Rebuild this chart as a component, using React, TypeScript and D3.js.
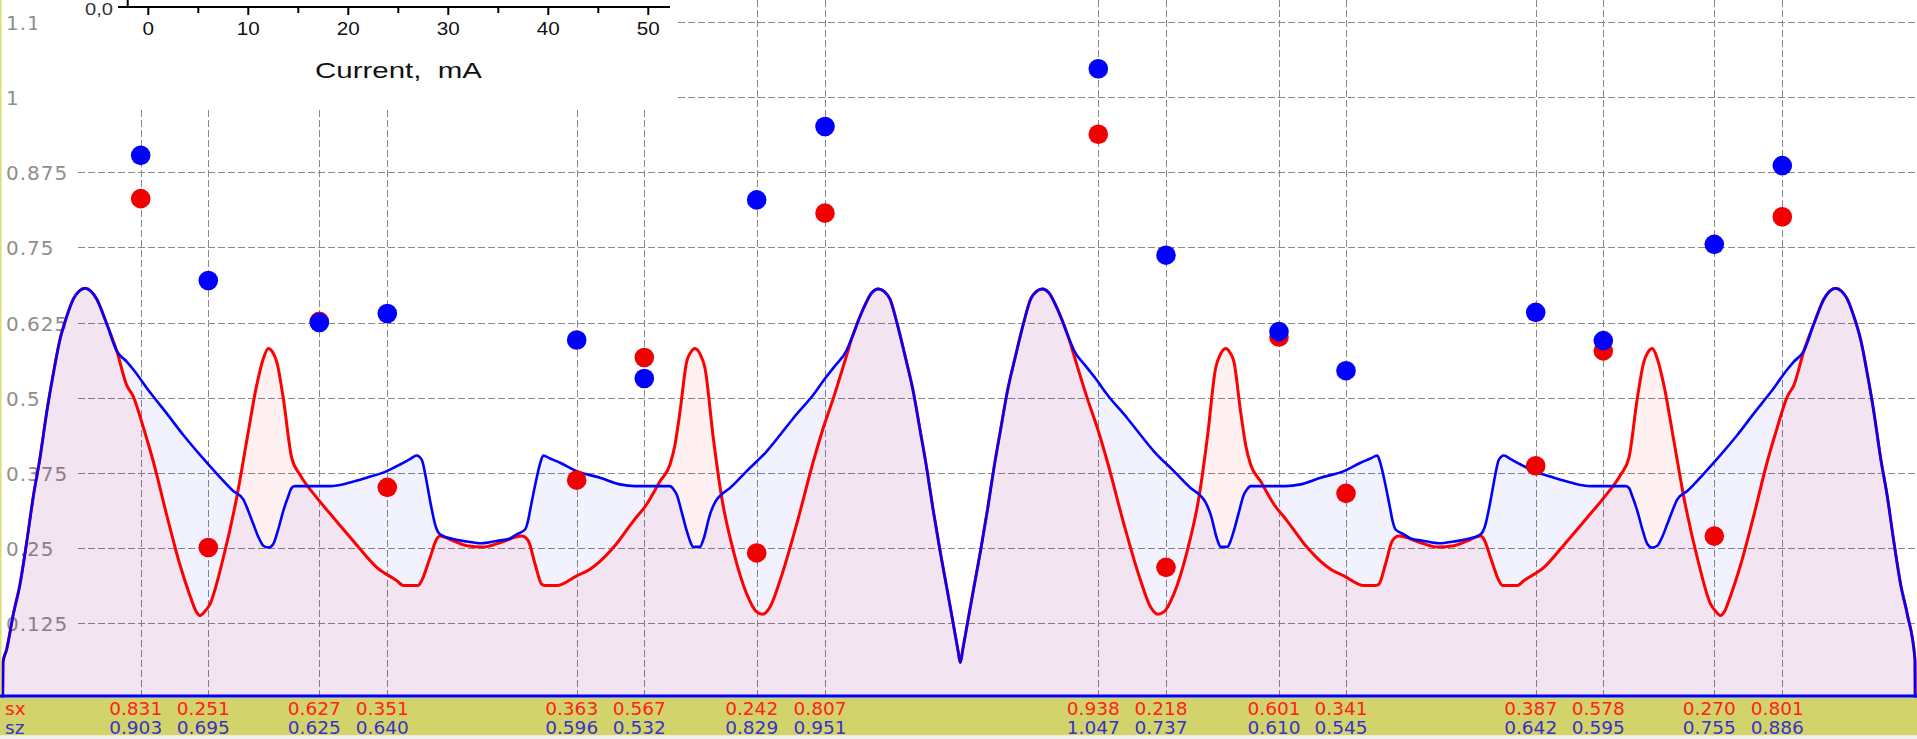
import React from 'react';
import * as d3 from 'd3';

type P = [number, number];

// ---------- profile data (position, value) ----------
const leftFlank: P[] = [
  [2.7, 0], [3, 0.06], [6.7, 0.082], [13.3, 0.14], [20, 0.19], [26.7, 0.26], [33.3, 0.336], [40, 0.4],
  [46.7, 0.476], [53.3, 0.54], [60, 0.597], [66.7, 0.635], [73.3, 0.664], [79, 0.677], [85, 0.682],
  [91, 0.677], [96.7, 0.664], [106.7, 0.623], [116.7, 0.578],
];

const redInnerA: P[] = [
  [126.7, 0.521], [133.3, 0.502], [143.3, 0.451], [153.3, 0.394], [166.7, 0.305], [180, 0.222], [190, 0.171],
  [196, 0.145], [200, 0.138], [205, 0.145], [210, 0.157], [223.3, 0.234], [236.7, 0.334], [246.7, 0.428],
  [256.7, 0.521], [263.3, 0.565], [268.3, 0.582], [273, 0.575], [276.7, 0.56], [283.3, 0.499], [291.7, 0.4],
  [300, 0.372], [316.7, 0.334], [333.3, 0.301], [353.3, 0.262], [376.7, 0.218], [396.7, 0.196], [403.3, 0.188],
  [418.3, 0.188], [421.7, 0.196], [430, 0.234], [436.7, 0.265], [440, 0.27], [453.3, 0.262], [466.7, 0.254],
  [483.3, 0.252], [500, 0.259], [521.7, 0.27], [528.3, 0.262], [535, 0.224], [541.7, 0.19], [545, 0.188],
  [556.7, 0.188], [576.7, 0.204], [590, 0.215], [600, 0.228], [613.3, 0.251], [633.3, 0.295], [646.7, 0.323],
  [660, 0.361], [670, 0.389], [675, 0.422], [680, 0.477], [686.7, 0.56], [690.5, 0.575], [695, 0.582],
  [700, 0.573], [705, 0.549], [713.3, 0.433], [721.7, 0.334], [733.3, 0.246], [746.7, 0.174], [756.7, 0.144],
  [762.7, 0.14], [770, 0.152], [780, 0.196], [796.7, 0.29], [813.3, 0.394], [823.3, 0.45], [833.3, 0.499],
  [846.7, 0.571],
];

const blueInnerA: P[] = [
  [126.7, 0.56], [133.3, 0.547], [150, 0.509], [166.7, 0.474], [183.3, 0.438], [200, 0.405], [216.7, 0.374],
  [233.3, 0.345], [243.3, 0.331], [248, 0.313], [253.3, 0.29], [258, 0.27], [263.3, 0.254], [268.3, 0.251],
  [273.3, 0.257], [278, 0.28], [283.3, 0.312], [288, 0.335], [291.7, 0.35], [295, 0.353], [330, 0.353],
  [350, 0.359], [366.7, 0.367], [386.7, 0.378], [400, 0.389], [410, 0.398], [416.7, 0.404], [421.7, 0.397],
  [425, 0.375], [428.3, 0.345], [431.7, 0.315], [435, 0.29], [440, 0.273], [453.3, 0.265], [466.7, 0.261],
  [481.5, 0.258], [496.7, 0.262], [510, 0.266], [516.7, 0.273], [525, 0.281], [528, 0.295], [530, 0.312],
  [533.3, 0.34], [536.7, 0.367], [540, 0.39], [543.3, 0.404], [550, 0.399], [560, 0.392], [576.7, 0.378],
  [600, 0.367], [620, 0.356], [635, 0.353], [670, 0.353], [673.5, 0.348], [676.7, 0.339], [681.7, 0.31],
  [686.7, 0.279], [690, 0.262], [693.3, 0.252], [700, 0.252], [703.5, 0.265], [710, 0.306], [715, 0.326],
  [720, 0.337], [730, 0.35], [746.7, 0.378], [766.7, 0.411], [780, 0.438], [793.3, 0.466], [813.3, 0.505],
  [825, 0.532], [835, 0.553], [846.7, 0.579],
];

const centerSection: P[] = [
  [852, 0.6], [863.3, 0.648], [872, 0.675], [878.3, 0.681], [884, 0.677], [890, 0.664], [896.7, 0.626],
  [905, 0.57], [913.3, 0.51], [920, 0.447], [926.7, 0.383], [933, 0.315], [940, 0.246], [946.7, 0.185],
  [953.3, 0.124], [958, 0.08], [960.3, 0.06], [962.6, 0.08], [967.3, 0.124], [973.9, 0.185], [980.6, 0.246],
  [987.6, 0.315], [993.9, 0.383], [1000.6, 0.447], [1007.3, 0.51], [1015.6, 0.57], [1023.9, 0.626],
  [1030.6, 0.664], [1036.6, 0.677], [1042.3, 0.681], [1048.6, 0.675], [1057.3, 0.648], [1068.6, 0.6],
];

const redInnerB: P[] = [
  [1073.9, 0.571], [1087.3, 0.499], [1097.3, 0.45], [1107.3, 0.394], [1123.9, 0.29], [1140.6, 0.196],
  [1150.6, 0.152], [1157.9, 0.14], [1163.9, 0.144], [1173.9, 0.174], [1187.3, 0.246], [1198.9, 0.334],
  [1207.3, 0.433], [1215.6, 0.549], [1220.6, 0.573], [1225.6, 0.582], [1230.1, 0.575], [1233.9, 0.56],
  [1240.6, 0.477], [1245.6, 0.422], [1250.6, 0.389], [1260.6, 0.361], [1273.9, 0.323], [1287.3, 0.295],
  [1307.3, 0.251], [1320.6, 0.228], [1330.6, 0.215], [1343.9, 0.204], [1363.9, 0.188], [1375.6, 0.188],
  [1378.9, 0.19], [1385.6, 0.224], [1392.3, 0.262], [1398.9, 0.27], [1420.6, 0.259], [1437.3, 0.252],
  [1453.9, 0.254], [1467.3, 0.262], [1480.6, 0.27], [1483.9, 0.265], [1490.6, 0.234], [1498.9, 0.196],
  [1502.3, 0.188], [1517.3, 0.188], [1523.9, 0.196], [1543.9, 0.218], [1567.3, 0.262], [1587.3, 0.301],
  [1603.9, 0.334], [1620.6, 0.372], [1628.9, 0.4], [1637.3, 0.499], [1643.9, 0.56], [1647.6, 0.575],
  [1652.3, 0.582], [1657.3, 0.565], [1663.9, 0.521], [1673.9, 0.428], [1683.9, 0.334], [1697.3, 0.234],
  [1710.6, 0.157], [1715.6, 0.145], [1720.6, 0.138], [1724.6, 0.145], [1730.6, 0.171], [1740.6, 0.222],
  [1753.9, 0.305], [1767.3, 0.394], [1777.3, 0.451], [1787.3, 0.502], [1793.9, 0.521],
];

const blueInnerB: P[] = [
  [1073.9, 0.579], [1085.6, 0.553], [1095.6, 0.532], [1107.3, 0.505], [1127.3, 0.466], [1140.6, 0.438],
  [1153.9, 0.411], [1173.9, 0.378], [1190.6, 0.35], [1200.6, 0.337], [1205.6, 0.326], [1210.6, 0.306],
  [1217.1, 0.265], [1220.6, 0.252], [1227.3, 0.252], [1230.6, 0.262], [1233.9, 0.279], [1238.9, 0.31],
  [1243.9, 0.339], [1247.1, 0.348], [1250.6, 0.353], [1285.6, 0.353], [1300.6, 0.356], [1320.6, 0.367],
  [1343.9, 0.378], [1360.6, 0.392], [1370.6, 0.399], [1377.3, 0.404], [1380.6, 0.39], [1383.9, 0.367],
  [1387.3, 0.34], [1390.6, 0.312], [1392.6, 0.295], [1395.6, 0.281], [1403.9, 0.273], [1410.6, 0.266],
  [1423.9, 0.262], [1439.1, 0.258], [1453.9, 0.261], [1467.3, 0.265], [1480.6, 0.273], [1485.6, 0.29],
  [1488.9, 0.315], [1492.3, 0.345], [1495.6, 0.375], [1498.9, 0.397], [1503.9, 0.404], [1510.6, 0.398],
  [1520.6, 0.389], [1533.9, 0.378], [1553.9, 0.367], [1570.6, 0.359], [1590.6, 0.353], [1625.6, 0.353],
  [1628.9, 0.35], [1632.6, 0.335], [1637.3, 0.312], [1642.6, 0.28], [1647.3, 0.257], [1652.3, 0.251],
  [1657.3, 0.254], [1662.6, 0.27], [1667.3, 0.29], [1672.6, 0.313], [1677.3, 0.331], [1687.3, 0.345],
  [1703.9, 0.374], [1720.6, 0.405], [1737.3, 0.438], [1753.9, 0.474], [1770.6, 0.509], [1787.3, 0.547],
  [1793.9, 0.56],
];

const rightFlank: P[] = [
  [1803.9, 0.578], [1813.9, 0.623], [1823.9, 0.664], [1829.6, 0.677], [1835.6, 0.682], [1841.6, 0.677],
  [1847.3, 0.664], [1853.9, 0.635], [1860.6, 0.597], [1867.3, 0.54], [1873.9, 0.476], [1880.6, 0.4],
  [1887.3, 0.336], [1893.9, 0.26], [1900.6, 0.19], [1907.3, 0.14], [1915, 0.064], [1915.2, 0],
];

// ---------- element data ----------
const elementPositions = [140.7, 208.3, 319.3, 387.3, 576.7, 644.3, 756.7, 825, 1098.3, 1166, 1279, 1346, 1535.7, 1603.3, 1714.3, 1782.3];
const sxValues = [0.831, 0.251, 0.627, 0.351, 0.363, 0.567, 0.242, 0.807, 0.938, 0.218, 0.601, 0.341, 0.387, 0.578, 0.27, 0.801];
const szValues = [0.903, 0.695, 0.625, 0.64, 0.596, 0.532, 0.829, 0.951, 1.047, 0.737, 0.61, 0.545, 0.642, 0.595, 0.755, 0.886];

const yTickValues = [0.125, 0.25, 0.375, 0.5, 0.625, 0.75, 0.875, 1, 1.125];
const yTickLabels = ['0.125', '0.25', '0.375', '0.5', '0.625', '0.75', '0.875', '1', '1.125'];

const insetMajorTicks = [0, 10, 20, 30, 40, 50];
const insetMinorTicks = [5, 15, 25, 35, 45];
const insetTitle = 'Current,  mA';

const redProfile: P[] = [...leftFlank, ...redInnerA, ...centerSection, ...redInnerB, ...rightFlank];
const blueProfile: P[] = [...leftFlank, ...blueInnerA, ...centerSection, ...blueInnerB, ...rightFlank];

const W = 1917;
const H = 739;

export default function App() {
  const x = d3.scaleLinear().domain([0, 1917]).range([0, 1917]);
  const y = d3.scaleLinear().domain([0, 1]).range([698.5, 97]);
  const ix = d3.scaleLinear().domain([0, 50]).range([148.3, 648.3]);

  const line = d3.line<P>().x(d => x(d[0])).y(d => y(d[1])).curve(d3.curveMonotoneX);
  const area = d3.area<P>().x(d => x(d[0])).y0(y(0)).y1(d => y(d[1])).curve(d3.curveMonotoneX);

  const font = '"DejaVu Sans", Verdana, sans-serif';
  const insetFont = '"Liberation Sans", Arial, sans-serif';

  return (
    <div style={{ position: 'absolute', left: 0, top: 0 }}>
      <svg width={W} height={H} style={{ display: 'block' }}>
        <rect x={0} y={0} width={W} height={H} fill="#ffffff" />

        {/* y labels */}
        {yTickValues.map((v, i) => (
          <text key={'yl' + i} x={6} y={y(v) + 1} dominantBaseline="central" fontFamily={font} fontSize={20}
            letterSpacing={1} fill="#8e8e8e">
            {yTickLabels[i]}
          </text>
        ))}

        {/* grid */}
        {yTickValues.map((v, i) => (
          <line key={'hg' + i} x1={78} x2={W} y1={Math.round(y(v)) + 0.5} y2={Math.round(y(v)) + 0.5}
            stroke="#888888" strokeWidth={1} strokeDasharray="7,3" />
        ))}
        {elementPositions.map((p, i) => (
          <line key={'vg' + i} x1={Math.round(x(p)) + 0.5} x2={Math.round(x(p)) + 0.5} y1={0} y2={697}
            stroke="#888888" strokeWidth={1} strokeDasharray="7,3" />
        ))}

        {/* areas */}
        <path d={area(blueProfile) || ''} fill="rgba(0,0,255,0.05)" />
        <path d={area(redProfile) || ''} fill="rgba(255,0,0,0.055)" />

        {/* lines */}
        <path d={line(redProfile) || ''} fill="none" stroke="#ff0000" strokeWidth={3} strokeLinejoin="round" />
        <path d={line(blueProfile) || ''} fill="none" stroke="#0000ff" strokeWidth={2.6} strokeLinejoin="round" />

        {/* markers */}
        {elementPositions.map((p, i) => (
          <circle key={'rs' + i} cx={x(p)} cy={y(sxValues[i])} r={9.8} fill="#f00000" />
        ))}
        {elementPositions.map((p, i) => (
          <circle key={'bs' + i} cx={x(p)} cy={y(szValues[i])} r={9.8} fill="#0000ff" />
        ))}

        {/* left border */}
        <rect x={0} y={0} width={1.6} height={697} fill="#dede78" />

        {/* bottom band */}
        <rect x={0} y={697.5} width={W} height={38} fill="#d3d36b" />
        <rect x={0} y={735.5} width={W} height={H - 735.5} fill="#f0f0f0" />
        <line x1={0} x2={W} y1={696} y2={696} stroke="#0000ff" strokeWidth={3} />

        <text x={5} y={708} dominantBaseline="central" fontFamily={font} fontSize={18.5} fill="#ff2020">sx</text>
        <text x={5} y={727} dominantBaseline="central" fontFamily={font} fontSize={18.5} fill="#3434c8">sz</text>
        {elementPositions.map((p, i) => (
          <text key={'sxt' + i} x={x(p) - 5} y={708} textAnchor="middle" dominantBaseline="central" fontFamily={font} fontSize={18.5} fill="#ff2020">
            {sxValues[i].toFixed(3)}
          </text>
        ))}
        {elementPositions.map((p, i) => (
          <text key={'szt' + i} x={x(p) - 5} y={727} textAnchor="middle" dominantBaseline="central" fontFamily={font} fontSize={18.5} fill="#3434c8">
            {szValues[i].toFixed(3)}
          </text>
        ))}

        {/* inset */}
        <rect x={37} y={0} width={639} height={108} fill="#ffffff" />
        <line x1={127.7} x2={127.7} y1={0} y2={7} stroke="#000" strokeWidth={2} />
        <line x1={118} x2={670} y1={7} y2={7} stroke="#000" strokeWidth={2} />
        {insetMajorTicks.map(t => (
          <line key={'imt' + t} x1={ix(t)} x2={ix(t)} y1={7} y2={15} stroke="#000" strokeWidth={2} />
        ))}
        {insetMinorTicks.map(t => (
          <line key={'imn' + t} x1={ix(t)} x2={ix(t)} y1={7} y2={13} stroke="#000" strokeWidth={2} />
        ))}
        {insetMajorTicks.map(t => (
          <text key={'iml' + t} x={ix(t)} y={29} textAnchor="middle" dominantBaseline="central" fontFamily={insetFont}
            fontSize={18} fill="#111" textLength={String(t).length * 11.5} lengthAdjust="spacingAndGlyphs">
            {t}
          </text>
        ))}
        <text x={113} y={9} textAnchor="end" dominantBaseline="central" fontFamily={insetFont} fontSize={17} fill="#333"
          textLength={28} lengthAdjust="spacingAndGlyphs">0,0</text>
        <text x={315} y={70} dominantBaseline="central" fontFamily={insetFont} fontSize={22} fill="#111"
          textLength={167} lengthAdjust="spacingAndGlyphs" style={{ whiteSpace: 'pre' }}>{insetTitle}</text>
      </svg>
    </div>
  );
}
